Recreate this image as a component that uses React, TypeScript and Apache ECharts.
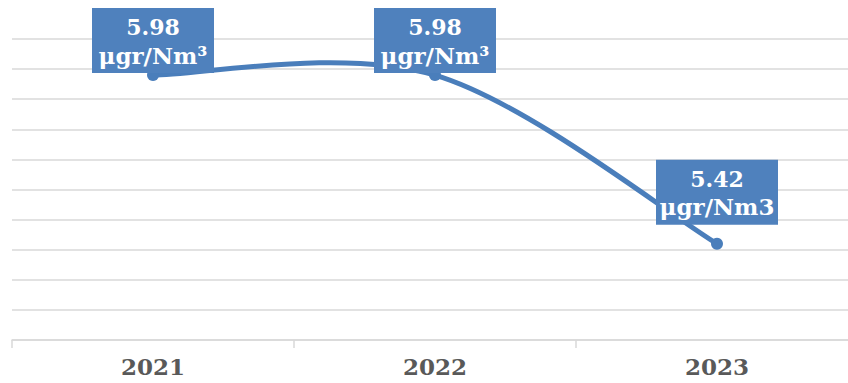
import React, { useEffect, useRef } from "react";
import * as echarts from "echarts";

const years = ["2021", "2022", "2023"];
const values = [5.98, 5.98, 5.42];
const units = ["μgr/Nm³", "μgr/Nm³", "μgr/Nm3"];
const labelDistances = [-4, -4, 13];

export default function App() {
  const ref = useRef<HTMLDivElement>(null);
  useEffect(() => {
    if (!ref.current) return;
    const chart = echarts.init(ref.current, undefined, { renderer: "svg" });
    const blue = "#4a7ebb";
    chart.setOption({
      animation: false,
      grid: { left: 12, right: 2, top: 39, bottom: 43, containLabel: false },
      xAxis: {
        type: "category",
        data: years,
        boundaryGap: true,
        axisLine: { lineStyle: { color: "#d9d9d9", width: 1.5 } },
        axisTick: { show: true, length: 8, lineStyle: { color: "#d9d9d9", width: 1.5 } },
        axisLabel: {
          margin: 15,
          fontFamily: "DejaVu Serif",
          fontWeight: "bold",
          fontSize: 23,
          color: "#595959",
        },
      },
      yAxis: {
        type: "value",
        min: 5.1,
        max: 6.1,
        interval: 0.1,
        axisLabel: { show: false },
        axisLine: { show: false },
        axisTick: { show: false },
        splitLine: { lineStyle: { color: "#d9d9d9", width: 1.5 } },
      },
      series: [
        {
          type: "custom",
          clip: false,
          z: 1,
          data: [[0, values[0]]],
          renderItem: (params: any, api: any) => {
            const pts = values.map((v, i) => api.coord([i, v]));
            let d = `M${pts[0][0]},${pts[0][1]}`;
            for (let i = 0; i < pts.length - 1; i++) {
              const p0 = pts[Math.max(i - 1, 0)];
              const p1 = pts[i];
              const p2 = pts[i + 1];
              const p3 = pts[Math.min(i + 2, pts.length - 1)];
              const c1x = p1[0] + (p2[0] - p0[0]) / 6;
              const c1y = p1[1] + (p2[1] - p0[1]) / 6;
              const c2x = p2[0] - (p3[0] - p1[0]) / 6;
              const c2y = p2[1] - (p3[1] - p1[1]) / 6;
              d += ` C${c1x},${c1y} ${c2x},${c2y} ${p2[0]},${p2[1]}`;
            }
            return {
              type: "path",
              shape: { pathData: d },
              style: { stroke: blue, lineWidth: 5, fill: "none" },
            };
          },
        },
        {
          type: "line",
          z: 2,
          symbol: "circle",
          symbolSize: 12,
          lineStyle: { width: 0, opacity: 0 },
          itemStyle: { color: blue },
          data: values.map((v, i) => ({
            value: v,
            label: {
              show: true,
              position: "top",
              distance: labelDistances[i],
              formatter: () => "{a|" + v.toFixed(2) + "}\n{b|" + units[i] + "}",
              backgroundColor: "#4f81bd",
              color: "#ffffff",
              fontFamily: "DejaVu Serif",
              fontWeight: "bold",
              align: "center",
              width: 104,
              padding: [5, 9, 4, 9],
              rich: {
                a: {
                  fontFamily: "DejaVu Serif",
                  fontWeight: "bold",
                  fontSize: 22,
                  lineHeight: 28,
                  color: "#ffffff",
                  align: "center",
                },
                b: {
                  fontFamily: "DejaVu Serif",
                  fontWeight: "bold",
                  fontSize: 23,
                  lineHeight: 28,
                  color: "#ffffff",
                  align: "center",
                },
              },
            },
          })),
        },
      ],
    });
    return () => chart.dispose();
  }, []);
  return (
    <div
      style={{
        position: "absolute",
        left: 0,
        top: 0,
        width: 848,
        height: 383,
        overflow: "hidden",
      }}
    >
      <div ref={ref} style={{ width: 860, height: 383 }} />
    </div>
  );
}
